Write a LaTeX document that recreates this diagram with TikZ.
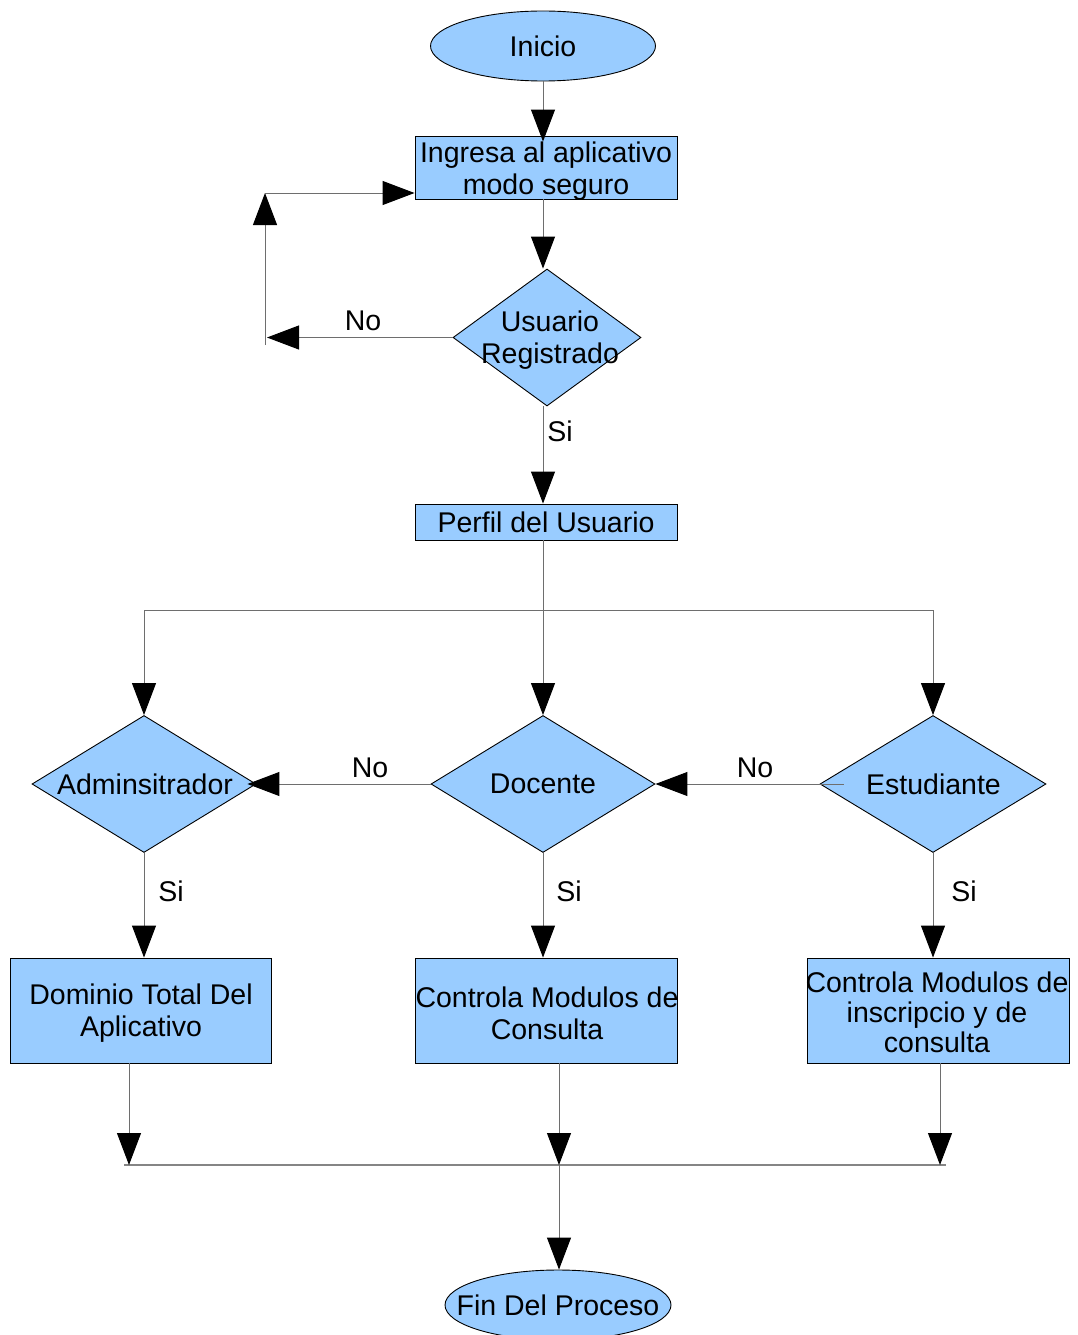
\documentclass[tikz,border=0pt]{standalone}
\usepackage{fontspec}
\setmainfont{Liberation Sans}
\usetikzlibrary{shapes.geometric,arrows.meta,calc}
\definecolor{shapefill}{HTML}{99CCFF}
\definecolor{linegray}{HTML}{6E6E6E}
\definecolor{busgray}{HTML}{858585}

\begin{document}
\begin{tikzpicture}[x=1pt,y=-1pt,
  shapebase/.style={draw=black, line width=0.9pt, fill=shapefill, inner sep=0pt},
  terminal/.style={shapebase, ellipse, minimum width=225pt, minimum height=70pt},
  process/.style={shapebase, rectangle, minimum width=262pt},
  decision/.style={shapebase, diamond, minimum width=#1, minimum height=137pt},
  txt/.style={inner sep=0pt, align=center, font=\fontsize{28.5}{32}\selectfont},
  conn/.style={draw=linegray, line width=1pt},
  arr/.style={conn, -{Triangle[length=32pt,width=24pt,color=black]}},
  bus/.style={draw=busgray, line width=1.8pt}
]
\useasboundingbox (0,0) rectangle (1077,1335);

% --- shapes ---
\node[terminal] (ini) at (543,46) {};
\node[txt] (iniT) at (ini.center) {Inicio};

\node[process, minimum height=63pt] (ing) at (546,167.5) {};
\node[txt] (ingT) at (546,171) {Ingresa al aplicativo\\modo seguro};

\node[decision=188pt] (ur) at (547,337.5) {};
\node[txt] (urT) at (550,340) {Usuario\\Registrado};

\node[process, minimum height=36pt] (per) at (546,522) {};
\node[txt] (perT) at (per.center) {Perfil del Usuario};

\node[decision=224pt] (adm) at (144,784) {};
\node[txt] (admT) at (145,784) {Adminsitrador};
\node[decision=224pt] (doc) at (543,784) {};
\node[txt] (docT) at (543,784) {Docente};
\node[decision=226pt] (est) at (933,784) {};
\node[txt] (estT) at (933.5,784) {Estudiante};

\node[process, minimum width=261pt, minimum height=105pt] (dom) at (140.5,1010.5) {};
\node[txt] (domT) at (141,1013) {Dominio Total Del\\Aplicativo};
\node[process, minimum height=105pt] (cm1) at (546,1010.5) {};
\node[txt] (cm1T) at (547,1013) {Controla Modulos de\\Consulta};
\node[process, minimum height=105pt] (cm2) at (938,1010.5) {};
\node[txt, font=\fontsize{28.5}{30}\selectfont] (cm2T) at (937,1012) {Controla Modulos de\\inscripcio y de\\consulta};

\node[terminal, minimum width=226pt] (fin) at (558,1305) {};
\node[txt] (finT) at (fin.center) {Fin Del Proceso};

% --- junction points ---
\coordinate (lb) at (265,345);
\coordinate (lt) at (265,193);
\coordinate (jn) at (543,610);
\coordinate (m1) at (129,1165);
\coordinate (m2) at (559,1165);
\coordinate (m3) at (940,1165);
\coordinate (bl) at (124,1165);
\coordinate (br) at (946,1165);

% --- connectors ---
\draw[arr] (ini.south) -- ($(ini.south |- ing.north)+(0,6)$);
\draw[arr] (ini.south |- ing.south) -- (ini.south |- ur.north);

\draw[arr] (ur.west) -- ($(lb |- ur.west)+(2,0)$);
\draw[arr] (lb) -- (lt);
\draw[arr] (lt) -- (ing.west |- lt);

\draw[arr] (ini.south |- ur.south) -- (ini.south |- per.north);
\draw[conn] (adm.north |- jn) -- (est.north |- jn);
\draw[arr] (ini.south |- per.south) -- (doc.north);
\draw[arr] (adm.north |- jn) -- (adm.north);
\draw[arr] (est.north |- jn) -- (est.north);

\draw[arr] (doc.west) -- ($(adm.east)+(-9,0)$);
\draw[arr] ($(est.west)+(24,0)$) -- (doc.east);

\draw[arr] (adm.south) -- (adm.south |- dom.north);
\draw[arr] (doc.south) -- (doc.south |- cm1.north);
\draw[arr] (est.south) -- (est.south |- cm2.north);

\draw[bus] (bl) -- (br);
\draw[arr] (m1 |- dom.south) -- (m1);
\draw[arr] (m2 |- cm1.south) -- (m2);
\draw[arr] (m3 |- cm2.south) -- (m3);
\draw[arr] (m2) -- (m2 |- fin.north);

% --- branch labels ---
\node[txt] (no1) at (363,321) {No};
\node[txt] (si1) at (560,431) {Si};
\node[txt] (no2) at (370,768) {No};
\node[txt] (no3) at (755,768) {No};
\node[txt] (si2) at (171,891) {Si};
\node[txt] (si3) at (569,891) {Si};
\node[txt] (si4) at (964,891) {Si};
\end{tikzpicture}
\end{document}
